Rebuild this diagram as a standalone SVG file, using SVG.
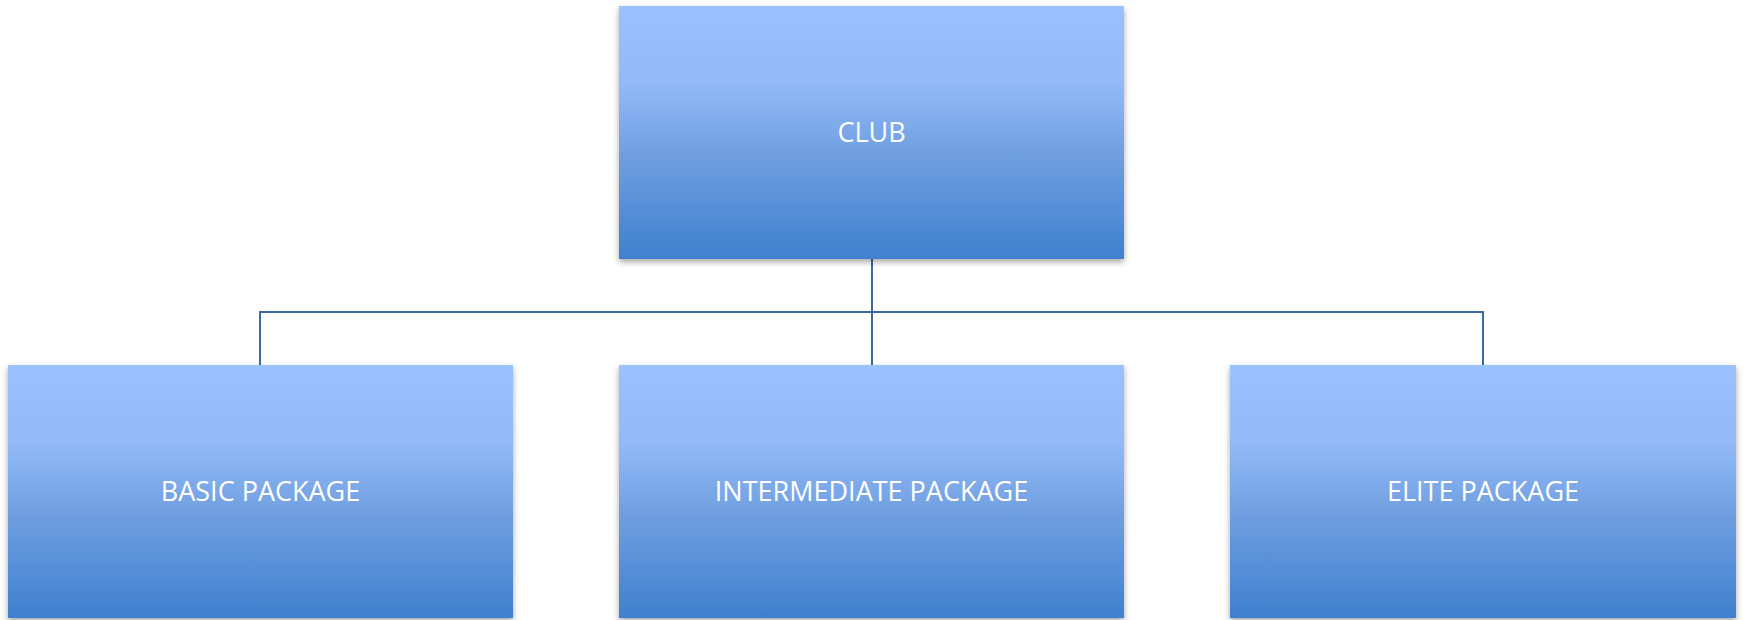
<svg xmlns="http://www.w3.org/2000/svg" width="1744" height="620" viewBox="0 0 1744 620">
  <defs>
    <linearGradient id="boxGrad" x1="0" y1="0" x2="0" y2="1">
      <stop offset="0" stop-color="#9bc1ff"/>
      <stop offset="0.3" stop-color="#93baf7"/>
      <stop offset="0.6" stop-color="#6e9ee0"/>
      <stop offset="1" stop-color="#3f80cf"/>
    </linearGradient>
    <filter id="shadow" x="-5%" y="-5%" width="110%" height="115%">
      <feDropShadow dx="0" dy="3" stdDeviation="3" flood-color="#000" flood-opacity="0.35"/>
    </filter>
  </defs>
  <style>
    .box { fill: url(#boxGrad); filter: url(#shadow); }
    .label { font-family: "Open Sans", "Liberation Sans", sans-serif; font-size: 27px; fill: #ffffff; text-anchor: middle; dominant-baseline: central; }
    .conn { stroke: #3c6aa5; stroke-width: 2; fill: none; }
  </style>
  <rect width="1744" height="620" fill="#ffffff"/>
  <g id="connectors">
    <line class="conn" x1="872" y1="259" x2="872" y2="365"/>
    <polyline class="conn" points="260,365 260,312 1483,312 1483,365"/>
  </g>
  <g id="club">
    <rect class="box" x="619" y="6" width="505" height="253"/>
    <text class="label" x="871.5" y="131">CLUB</text>
  </g>
  <g id="basic">
    <rect class="box" x="8" y="365" width="505" height="253"/>
    <text class="label" x="260.5" y="490">BASIC PACKAGE</text>
  </g>
  <g id="intermediate">
    <rect class="box" x="619" y="365" width="505" height="253"/>
    <text class="label" x="871.5" y="490">INTERMEDIATE PACKAGE</text>
  </g>
  <g id="elite">
    <rect class="box" x="1230" y="365" width="506" height="253"/>
    <text class="label" x="1483" y="490">ELITE PACKAGE</text>
  </g>
</svg>
